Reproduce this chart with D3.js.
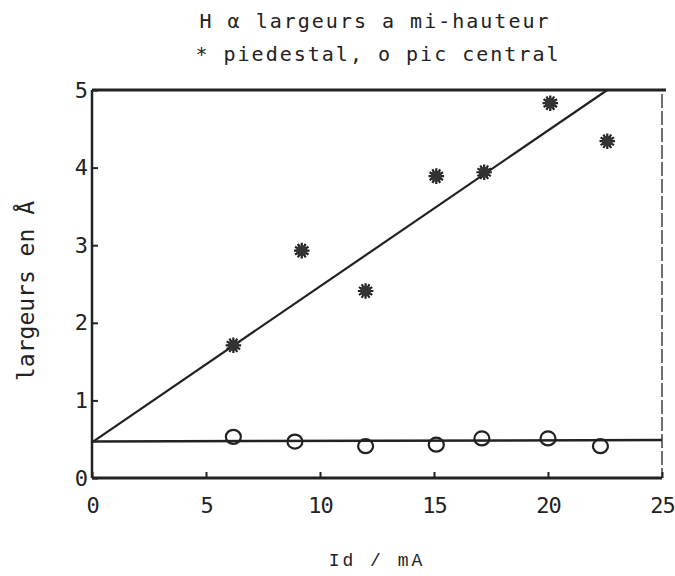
<!DOCTYPE html>
<html>
<head>
    <title>H alpha largeurs a mi-hauteur</title>
    <script src="https://cdnjs.cloudflare.com/ajax/libs/d3/7.8.5/d3.min.js"></script>
    <style>
        body {
            margin: 0;
            background-color: white;
        }
        #chart {
            width: 675px;
            height: 576px;
        }
        text {
            fill: #222;
        }
    </style>
</head>
<body>
    <div id="chart"></div>

    <script>
        // Data
        const current = [6.2, 9.2, 12.0, 15.1, 17.2, 20.1, 22.6];           // Id (mA), pedestal
        const pedestal = [1.71, 2.93, 2.41, 3.89, 3.94, 4.83, 4.34];       // widths (A)
        const currentCentral = [6.2, 8.9, 12.0, 15.1, 17.1, 20.0, 22.3];   // Id (mA), central peak
        const central = [0.53, 0.47, 0.41, 0.43, 0.51, 0.51, 0.41];
        // fitted lines, two end points each
        const fitPedestalX = [0, 22.6];
        const fitPedestalY = [0.46, 5.0];
        const fitCentralX = [0, 25];
        const fitCentralY = [0.47, 0.49];
        const xTicks = [0, 5, 10, 15, 20, 25];
        const yTicks = [0, 1, 2, 3, 4, 5];

        const width = 675, height = 576;
        const margin = {top: 90, right: 13, bottom: 98, left: 92};
        const innerW = width - margin.left - margin.right;
        const innerH = height - margin.top - margin.bottom;
        const ink = '#222';

        const svg = d3.select('#chart')
            .append('svg')
                .attr('width', width)
                .attr('height', height);

        const g = svg.append('g')
            .attr('transform', `translate(${margin.left},${margin.top})`);

        const x = d3.scaleLinear().domain([0, 25]).range([0, innerW]);
        const y = d3.scaleLinear().domain([0, 5]).range([innerH, 0]);

        // Title
        const title = svg.append('g')
            .attr('font-family', '"DejaVu Sans Mono", monospace')
            .attr('font-size', 20)
            .attr('letter-spacing', 2)
            .attr('text-anchor', 'middle');
        title.append('text').attr('x', 375).attr('y', 28).text('H α largeurs a mi-hauteur');
        title.append('text').attr('x', 378).attr('y', 61).text('* piedestal, o pic central');

        // Frame: heavy left / bottom / top, light right
        g.append('line').attr('x1', 0).attr('x2', innerW).attr('y1', innerH).attr('y2', innerH)
            .attr('stroke', ink).attr('stroke-width', 3);
        g.append('line').attr('x1', 0).attr('x2', 0).attr('y1', 0).attr('y2', innerH)
            .attr('stroke', ink).attr('stroke-width', 2.5);
        g.append('line').attr('x1', 0).attr('x2', innerW + 4).attr('y1', 0).attr('y2', 0)
            .attr('stroke', ink).attr('stroke-width', 3);
        g.append('line').attr('x1', innerW).attr('x2', innerW).attr('y1', 4).attr('y2', innerH)
            .attr('stroke', ink).attr('stroke-width', 1.3).attr('stroke-dasharray', '14 3');

        // Axes (inward ticks)
        const xAxis = g.append('g')
            .attr('transform', `translate(0,${innerH})`)
            .call(d3.axisBottom(x).tickValues(xTicks).tickSize(-6).tickPadding(19).tickFormat(d3.format('d')));
        const yAxis = g.append('g')
            .call(d3.axisLeft(y).tickValues(yTicks).tickSize(-6).tickPadding(5).tickFormat(d3.format('d')));
        [xAxis, yAxis].forEach(a => {
            a.select('.domain').remove();
            a.selectAll('line').attr('stroke', ink).attr('stroke-width', 2);
            a.selectAll('text')
                .attr('font-family', '"DejaVu Sans Mono", monospace')
                .attr('font-size', 22)
                .attr('letter-spacing', -1)
                .attr('fill', ink);
        });
        xAxis.selectAll('text').attr('dy', '0.71em');

        // Fit lines
        const line = d3.line().x(d => x(d[0])).y(d => y(d[1]));
        g.append('path')
            .datum(d3.zip(fitPedestalX, fitPedestalY))
            .attr('fill', 'none').attr('stroke', ink).attr('stroke-width', 2.2)
            .attr('d', line);
        g.append('path')
            .datum(d3.zip(fitCentralX, fitCentralY))
            .attr('fill', 'none').attr('stroke', ink).attr('stroke-width', 2.5)
            .attr('d', line);

        // Pedestal: stars
        const star = d3.symbol().type(d3.symbolAsterisk).size(170);
        const stars = g.selectAll('.star')
            .data(d3.zip(current, pedestal))
            .join('g')
                .attr('class', 'star')
                .attr('transform', d => `translate(${x(d[0])},${y(d[1])})`);
        stars.append('path').attr('d', star).attr('fill', 'none').attr('stroke', ink).attr('stroke-width', 2.2);
        stars.append('path').attr('d', star).attr('fill', 'none').attr('stroke', ink).attr('stroke-width', 2.2)
            .attr('transform', 'rotate(30)');
        stars.append('circle').attr('r', 5.5).attr('fill', '#333');

        // Central peak: circles
        g.selectAll('.ring')
            .data(d3.zip(currentCentral, central))
            .join('ellipse')
                .attr('class', 'ring')
                .attr('cx', d => x(d[0]))
                .attr('cy', d => y(d[1]))
                .attr('rx', 7.5).attr('ry', 7)
                .attr('fill', 'none').attr('stroke', ink).attr('stroke-width', 2.2);

        // Axis labels
        svg.append('text')
            .attr('transform', `translate(34,291) rotate(-90)`)
            .attr('text-anchor', 'middle')
            .attr('font-family', '"DejaVu Sans Mono", monospace')
            .attr('font-size', 23)
            .text('largeurs en Å');
        svg.append('text')
            .attr('x', 377).attr('y', 566)
            .attr('text-anchor', 'middle')
            .attr('font-family', '"Liberation Mono", monospace')
            .attr('font-size', 18)
            .attr('letter-spacing', 3)
            .text('Id / mA');
    </script>
</body>
</html>
